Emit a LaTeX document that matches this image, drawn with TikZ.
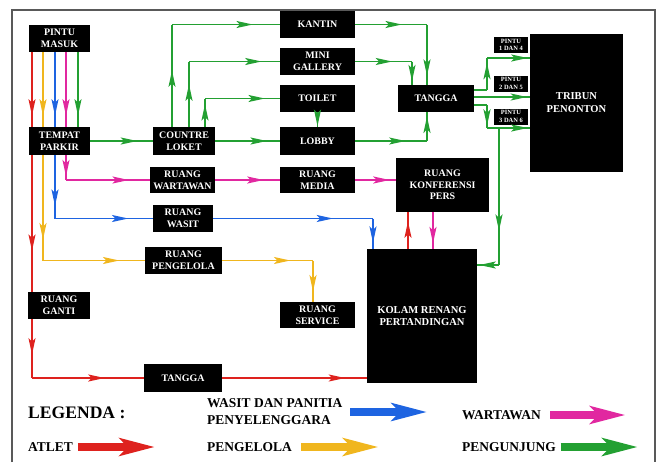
\documentclass[tikz,border=0pt]{standalone}
\usepackage{fontspec}
\setmainfont{Liberation Serif}
\usetikzlibrary{arrows.meta,decorations.markings}
\definecolor{atlet}{RGB}{222,34,30}
\definecolor{pengelola}{RGB}{240,182,30}
\definecolor{wasit}{RGB}{30,100,225}
\definecolor{wartawan}{RGB}{225,40,160}
\definecolor{pengunjung}{RGB}{35,160,50}

\begin{document}
\begin{tikzpicture}[x=0.03cm,y=-0.03cm,
  route/.style 2 args={draw=#1,line width=1.3pt,postaction={decorate,decoration={markings,
      mark=at position #2 with {\arrow[color=#1]{Stealth[length=14pt,width=6pt,inset=3pt]}}}}},
  sample/.style={line width=6pt,draw=#1,-{Stealth[length=30pt,width=15pt,inset=7pt]}}]
  \tikzstyle{room} = [fill=black,text=white,font=\bfseries\fontsize{8.5}{10}\selectfont,align=center,
    inner sep=1pt,minimum width=2.25cm,minimum height=0.81cm]
  \tikzstyle{gate} = [room,font=\bfseries\fontsize{5.5}{6.5}\selectfont,minimum width=1.02cm,minimum height=0.48cm]
  \tikzstyle{word} = [font=\bfseries\fontsize{11.5}{14.5}\selectfont,align=left,inner sep=0pt,anchor=west]
  \useasboundingbox (0,0) rectangle (661,462);
  \draw[gray!70!black,line width=1pt] (12,462) -- (12,10) -- (655,10) -- (655,462);

  \node (masuk) [room,minimum width=1.83cm] at (59.5,38.5) {PINTU\\MASUK};
  \node (parkir) [room,minimum width=1.83cm,minimum height=0.84cm] at (59.5,141) {TEMPAT\\PARKIR};
  \node (loket) [room,minimum width=1.86cm,minimum height=0.84cm] at (184,141) {COUNTRE\\LOKET};
  \node (kantin) [room] at (317.5,24.5) {KANTIN};
  \node (galeri) [room] at (317.5,61.5) {MINI\\GALLERY};
  \node (toilet) [room] at (317.5,98.5) {TOILET};
  \node (lobby) [room,minimum height=0.84cm] at (317.5,141) {LOBBY};
  \node (tangga) [room,minimum width=2.28cm] at (436,98.5) {TANGGA};
  \node (pintu1) [gate] at (511,45) {PINTU\\1 DAN 4};
  \node (pintu2) [gate] at (511,83.5) {PINTU\\2 DAN 5};
  \node (pintu3) [gate] at (511,116.5) {PINTU\\3 DAN 6};
  \node (tribun) [room,minimum width=2.79cm,minimum height=4.14cm,font=\bfseries\fontsize{9}{11}\selectfont] at (576.5,103) {TRIBUN\\PENONTON};
  \node (ruangwartawan) [room,minimum width=1.95cm,minimum height=0.78cm] at (182.5,180) {RUANG\\WARTAWAN};
  \node (media) [room,minimum height=0.78cm] at (317.5,180) {RUANG\\MEDIA};
  \node (pers) [room,minimum width=2.79cm,minimum height=1.62cm] at (442.5,185) {RUANG\\KONFERENSI\\PERS};
  \node (ruangwasit) [room,minimum width=1.8cm] at (183,218.5) {RUANG\\WASIT};
  \node (ruangpengelola) [room,minimum width=2.31cm] at (183.5,260.5) {RUANG\\PENGELOLA};
  \node (service) [room,minimum height=0.78cm] at (317.5,315) {RUANG\\SERVICE};
  \node (kolam) [room,minimum width=3.3cm,minimum height=4.02cm,font=\bfseries\fontsize{9}{11}\selectfont] at (422,316) {KOLAM RENANG\\PERTANDINGAN};
  \node (ganti) [room,minimum width=1.86cm] at (59,305.5) {RUANG\\GANTI};
  \node (tangga2) [room,minimum width=2.34cm,minimum height=0.84cm] at (183,378) {TANGGA};

  \coordinate (a1) at (32,378);
  \coordinate (y1) at (43,260.5);
  \coordinate (y2) at (313,260.5);
  \coordinate (b1) at (55,218.5);
  \coordinate (b2) at (373,218.5);
  \coordinate (m1) at (66,180);
  \coordinate (g1) at (172,24.5);
  \coordinate (g2) at (189,61.5);
  \coordinate (g3) at (205,98.5);
  \coordinate (g4) at (427,24.5);
  \coordinate (g5) at (412,61.5);
  \coordinate (g6) at (427,141);
  \coordinate (g7) at (487,90);
  \coordinate (g8) at (487,58);
  \coordinate (g9) at (487,105);
  \coordinate (g10) at (487,128);
  \coordinate (g11) at (499,128);
  \coordinate (g12) at (499,265);

  \foreach \c/\x in {atlet/32,pengelola/43,wasit/55,wartawan/66,pengunjung/78}
    \draw[route={\c}{0.85}] (\x,0 |- masuk.south) -- (\x,0 |- parkir.north);

  \draw[route={atlet}{0.7}] (32,0 |- parkir.south) -- (32,0 |- ganti.north);
  \draw[route={atlet}{0.6}] (32,0 |- ganti.south) -- (a1);
  \draw[route={atlet}{0.65}] (a1) -- (tangga2.west);
  \draw[route={atlet}{0.85}] (tangga2.east) -- (kolam.west |- tangga2.east);
  \draw[route={atlet}{0.75}] (408,0 |- kolam.north) -- (408,0 |- pers.south);

  \draw[route={pengelola}{0.8}] (43,0 |- parkir.south) -- (y1);
  \draw[route={pengelola}{0.75}] (y1) -- (ruangpengelola.west);
  \draw[route={pengelola}{0.75}] (ruangpengelola.east) -- (y2);
  \draw[route={pengelola}{0.75}] (y2) -- (y2 |- service.north);

  \draw[route={wasit}{0.8}] (55,0 |- parkir.south) -- (b1);
  \draw[route={wasit}{0.75}] (b1) -- (ruangwasit.west);
  \draw[route={wasit}{0.75}] (ruangwasit.east) -- (b2);
  \draw[route={wasit}{0.8}] (b2) -- (b2 |- kolam.north);

  \draw[route={wartawan}{0.85}] (66,0 |- parkir.south) -- (m1);
  \draw[route={wartawan}{0.75}] (m1) -- (ruangwartawan.west);
  \draw[route={wartawan}{0.75}] (ruangwartawan.east) -- (media.west);
  \draw[route={wartawan}{0.85}] (media.east) -- (pers.west |- media.east);
  \draw[route={wartawan}{0.85}] (433,0 |- pers.south) -- (433,0 |- kolam.north);

  \draw[route={pengunjung}{0.75}] (parkir.east) -- (loket.west);
  \draw[route={pengunjung}{0.8}] (loket.east) -- (lobby.west);
  \draw[route={pengunjung}{0.55}] (g1 |- loket.north) -- (g1);
  \draw[route={pengunjung}{0.75}] (g1) -- (kantin.west);
  \draw[route={pengunjung}{0.65}] (g2 |- loket.north) -- (g2);
  \draw[route={pengunjung}{0.8}] (g2) -- (galeri.west);
  \draw[route={pengunjung}{0.8}] (g3 |- loket.north) -- (g3);
  \draw[route={pengunjung}{0.8}] (g3) -- (toilet.west);
  \draw[route={pengunjung}{0.95}] (toilet.south) -- (lobby.north);
  \draw[route={pengunjung}{0.65}] (kantin.east) -- (g4);
  \draw[route={pengunjung}{0.85}] (g4) -- (g4 |- tangga.north);
  \draw[route={pengunjung}{0.65}] (galeri.east) -- (g5);
  \draw[route={pengunjung}{0.85}] (g5) -- (g5 |- tangga.north);
  \draw[route={pengunjung}{0.7}] (lobby.east) -- (g6);
  \draw[route={pengunjung}{0.85}] (g6) -- (g6 |- tangga.south);
  \draw[pengunjung,line width=1.3pt] (tangga.east |- g7) -- (g7);
  \draw[route={pengunjung}{0.85}] (g7) -- (g8);
  \draw[route={pengunjung}{0.95}] (g8) -- (tribun.west |- g8);
  \draw[route={pengunjung}{0.95}] (tangga.east |- 0,97) -- (tribun.west |- 0,97);
  \draw[pengunjung,line width=1.3pt] (tangga.east |- g9) -- (g9);
  \draw[route={pengunjung}{0.9}] (g9) -- (g10);
  \draw[route={pengunjung}{0.95}] (g10) -- (tribun.west |- g10);
  \draw[route={pengunjung}{0.75}] (g11) -- (g12);
  \draw[route={pengunjung}{0.9}] (g12) -- (kolam.east |- g12);

  \node (legenda) [word,font=\bfseries\fontsize{15}{17}\selectfont] at (28,413) {LEGENDA :};
  \node (atletkey) [word] at (28,447) {ATLET};
  \node (wasitkey) [word] at (207,412) {WASIT DAN PANITIA\\PENYELENGGARA};
  \node (pengelolakey) [word] at (207,447) {PENGELOLA};
  \node (wartawankey) [word] at (462,415) {WARTAWAN};
  \node (pengunjungkey) [word] at (462,447) {PENGUNJUNG};
  \draw[sample=atlet] ([xshift=4pt]atletkey.east) -- ++(77,0);
  \draw[sample=wasit] (350,0 |- wasitkey.east) -- ++(77,0);
  \draw[sample=pengelola] ([xshift=8pt]pengelolakey.east) -- ++(77,0);
  \draw[sample=wartawan] ([xshift=8pt]wartawankey.east) -- ++(75,0);
  \draw[sample=pengunjung] ([xshift=4pt]pengunjungkey.east) -- ++(77,0);
\end{tikzpicture}
\end{document}
